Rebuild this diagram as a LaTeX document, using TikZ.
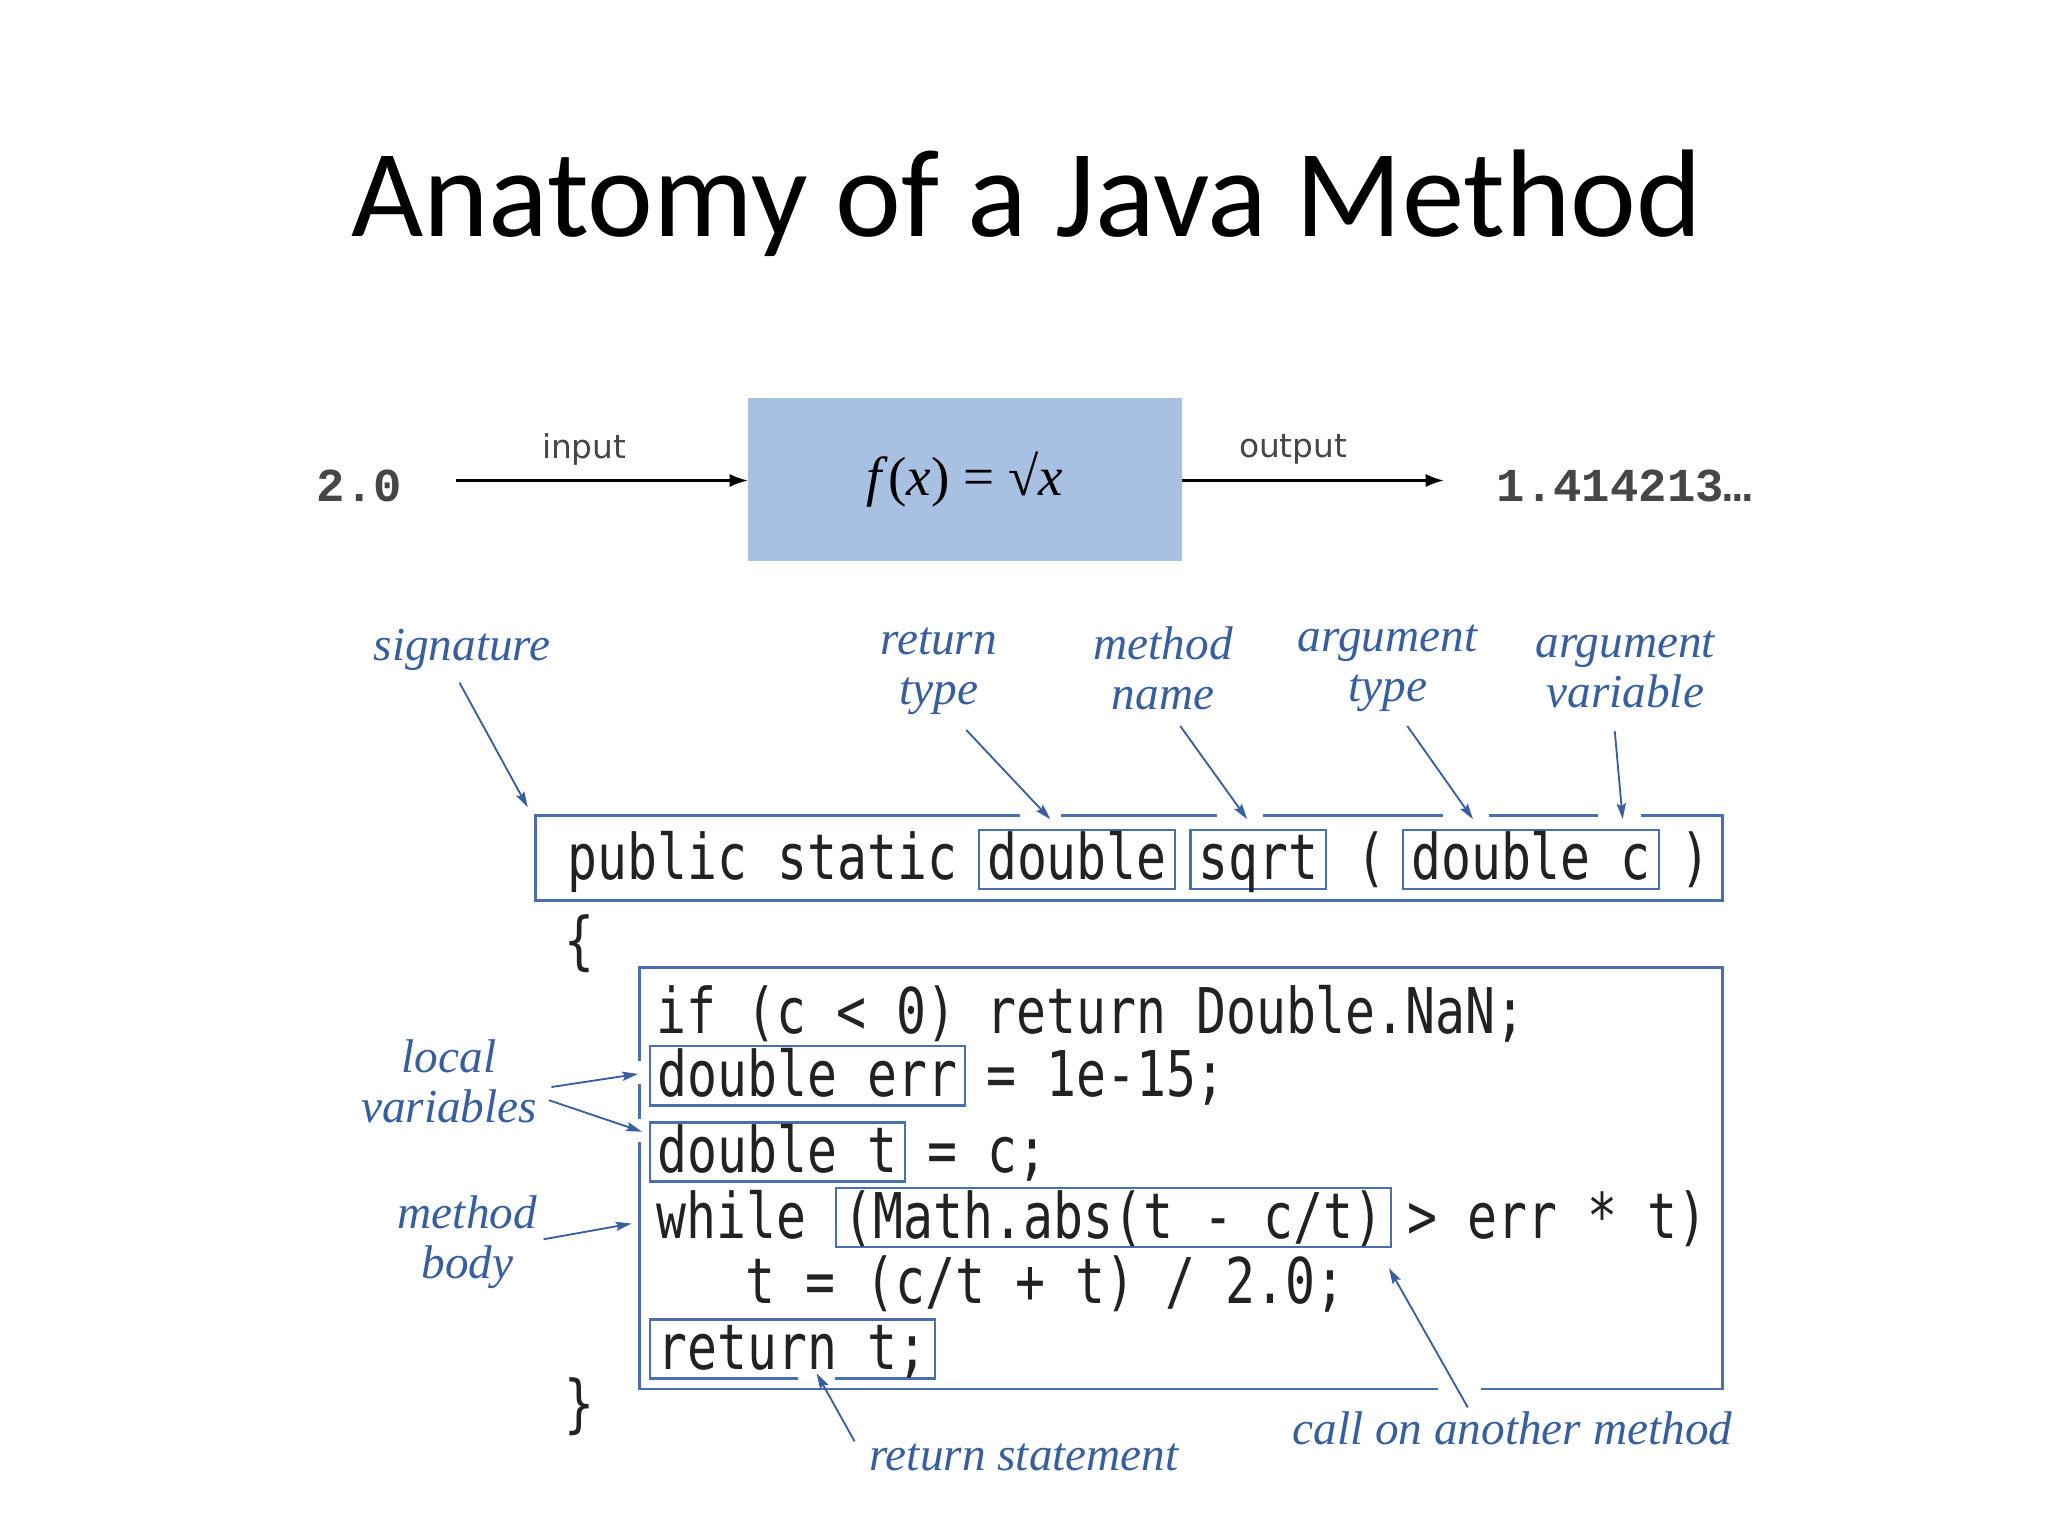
\documentclass[tikz,border=0pt]{standalone}
\usepackage{fontspec}
\setmainfont{Liberation Serif}
\newfontfamily\titlefam{Carlito}
\newfontfamily\codefam[FakeStretch=0.79]{DejaVu Sans Mono}
\newfontfamily\numfam{Liberation Mono}
\newfontfamily\iofam{DejaVu Sans}
\newfontfamily\serfam{Liberation Serif}
\usetikzlibrary{arrows.meta}
\definecolor{lblue}{RGB}{55,95,160}
\definecolor{lineblue}{RGB}{72,112,176}
\definecolor{fboxblue}{RGB}{168,192,226}
\definecolor{codegray}{RGB}{34,34,34}
\definecolor{numgray}{RGB}{70,70,70}
\newcommand\lblfont{\serfam\itshape\fontsize{36}{38}\selectfont}
\newcommand\codesize{\codefam\fontsize{48}{50}\selectfont}
\tikzset{
  lbl/.style={font=\lblfont, text=lblue, align=center, inner sep=0pt},
  code/.style={font=\codesize, text=codegray, inner sep=0pt, anchor=base west},
  cbox/.style={code, draw=lineblue, line width=1.7pt, inner xsep=6pt, inner ysep=4pt, text height=34pt, text depth=3pt},
  bigbox/.style={draw=lineblue, line width=2pt, inner sep=0pt},
  barrow/.style={draw=lblue, line width=1.4pt, -{Stealth[length=12pt,width=7pt,inset=2pt]}},
  karrow/.style={draw=black, line width=2pt, -{Latex[length=14pt,width=10pt]}},
  gap/.style={draw=white, line width=5pt},
  io/.style={font=\iofam\fontsize{25}{27}\selectfont, text=numgray, inner sep=0pt},
  num/.style={font=\numfam\bfseries\fontsize{36}{38}\selectfont, text=numgray, inner sep=0pt},
}
\begin{document}
\begin{tikzpicture}[x=1pt,y=-1pt]
\useasboundingbox (0,0) rectangle (1560,1170);
% title
\node[font=\titlefam\fontsize{95}{110}\selectfont, anchor=base, inner sep=0pt] (title) at (782,180) {Anatomy of a Java Method};
% top row
\node[num, anchor=base west] (in) at (241,382) {2.0};
\node[fill=fboxblue, minimum width=330pt, minimum height=124pt, inner sep=0pt] (fx) at (735,365)
  {\serfam\fontsize{42}{44}\selectfont\textit{f}(\textit{x}) = √\textit{x}};
\node[num, anchor=base west] (out) at (1140,382) {1.414213…};
\coordinate (inA) at (347,366);
\coordinate (outB) at (1100,366);
\draw[karrow] (inA) -- (fx.west |- inA);
\draw[karrow] (fx.east |- outB) -- (outB);
\node[io] (inl) at (445,342) {input};
\node[io] (outl) at (985,342) {output};
% signature box
\node[bigbox, minimum width=904pt, minimum height=65pt] (sig) at (860,653.5) {};
\node[code] (pub) at (432,670) {public static};
\node[cbox] (rt) at (745,670) {double};
\node[cbox] (mn) at (906,670) {sqrt};
\node[code] (lp) at (1033,670) {(};
\node[cbox] (at) at (1068,670) {double c};
\node[code] (rp) at (1280,670) {)};
% braces
\node[code] (lb) at (430,733) {\{};
\node[code] (rb) at (430,1086) {\}};
% body box
\node[bigbox, minimum width=825pt, minimum height=321pt] (body) at (899.5,897.5) {};
\node[code] (l1) at (500,787) {if (c < 0) return Double.NaN;};
\node[cbox] (err) at (494,835) {double err};
\node[code] (l2) at (751,835) {= 1e-15;};
\node[cbox] (tv) at (494,893) {double t};
\node[code] (l3) at (706,893) {= c;};
\node[code] (l4a) at (500,943) {while};
\node[cbox] (abs) at (636,943) {(Math.abs(t - c/t)};
\node[code] (l4b) at (1072,943) {> err * t)};
\node[code] (l5) at (568,993) {t = (c/t + t) / 2.0;};
\node[cbox] (ret) at (494,1043) {return t;};
% labels
\node[lbl] (Lsig) at (352,495) {signature};
\node[lbl] (Lrt) at (715,511) {return\\type};
\node[lbl] (Lmn) at (886,509) {method\\name};
\node[lbl] (Lat) at (1057,509) {argument\\type};
\node[lbl] (Lav) at (1238,510) {argument\\variable};
\node[lbl] (Llv) at (342,824) {local\\variables};
\node[lbl] (Lmb) at (356,946) {method\\body};
\node[lbl] (Lrs) at (780,1110) {return statement};
\node[lbl] (Lca) at (1152,1088) {call on another method};
% arrow coordinates
\coordinate (s0) at (350,520);  \coordinate (s1) at (402,615);
\coordinate (r0) at (736,556);  \coordinate (r1) at (800,624);
\coordinate (m0) at (899,553);  \coordinate (m1) at (950,624);
\coordinate (a0) at (1072,553); \coordinate (a1) at (1122,624);
\coordinate (v0) at (1230,557); \coordinate (v1) at (1236,624);
\coordinate (e0) at (420,828);  \coordinate (e1) at (486,818);
\coordinate (t0) at (418,838);  \coordinate (t1) at (489,862);
\coordinate (b0) at (414,944);  \coordinate (b1) at (481,932);
\coordinate (q0) at (651,1098); \coordinate (q1) at (622,1046);
\coordinate (c0) at (1118,1072); \coordinate (c1) at (1058,966);
% gaps in borders
\draw[gap] (777,621) -- (808,621);
\draw[gap] (927,621) -- (962,621);
\draw[gap] (1099,621) -- (1134,621);
\draw[gap] (1217,621) -- (1250,621);
\draw[gap] (487,808) -- (487,826);
\draw[gap] (487,852) -- (487,870);
\draw[gap] (608,1049.5) -- (636,1049.5);
\draw[gap] (1095,1058) -- (1128,1058);
% arrows
\draw[barrow] (s0) -- (s1);
\draw[barrow] (r0) -- (r1);
\draw[barrow] (m0) -- (m1);
\draw[barrow] (a0) -- (a1);
\draw[barrow] (v0) -- (v1);
\draw[barrow] (e0) -- (e1);
\draw[barrow] (t0) -- (t1);
\draw[barrow] (b0) -- (b1);
\draw[barrow] (q0) -- (q1);
\draw[barrow] (c0) -- (c1);
\end{tikzpicture}
\end{document}
